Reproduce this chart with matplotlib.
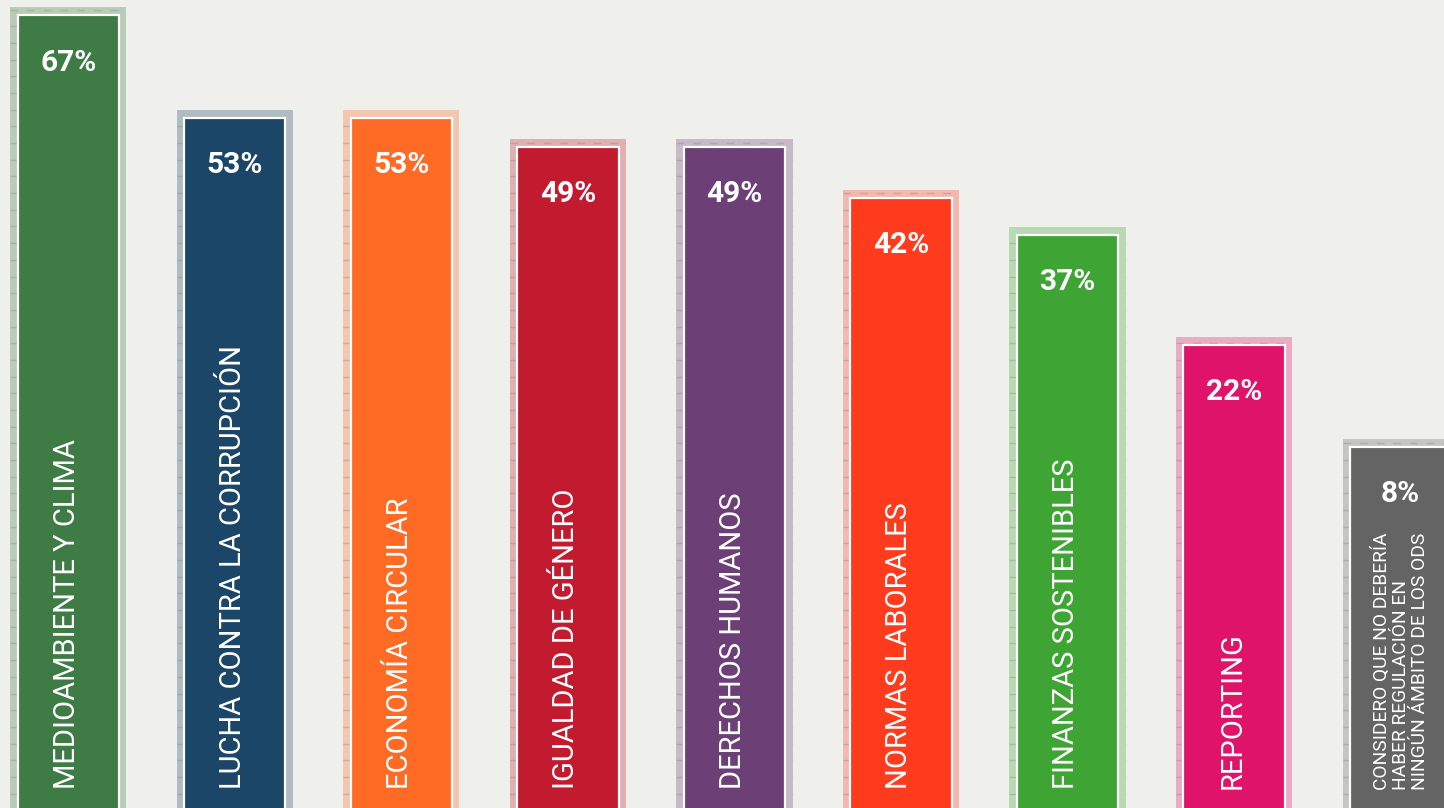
import numpy as np
import matplotlib
matplotlib.use('Agg')
import matplotlib.pyplot as plt

# ============== data ===================
categorias = ['MEDIOAMBIENTE Y CLIMA',
              'LUCHA CONTRA LA CORRUPCIÓN',
              'ECONOMÍA CIRCULAR',
              'IGUALDAD DE GÉNERO',
              'DERECHOS HUMANOS',
              'NORMAS LABORALES',
              'FINANZAS SOSTENIBLES',
              'REPORTING',
              'CONSIDERO QUE NO DEBERÍA\nHABER REGULACIÓN EN\nNINGÚN ÁMBITO DE LOS ODS']
valores = [67, 53, 53, 49, 49, 42, 37, 22, 8]
colores = ['#3E7B45', '#1B4668', '#FF6A25', '#C21A2E', '#6C3F77',
           '#FF3B1E', '#3EA535', '#E0136A', '#646464']

# ============== style ===================
fondo = '#EFEFEB'
base = -50          # bars run off the bottom edge of the picture
pad = 1.1           # light frame above each bar
ancho_int = 0.607
ancho_ext = 0.697

fig = plt.figure(figsize=(14.44, 8.08), dpi=100, facecolor=fondo)
ax = fig.add_axes([0, 0, 1, 1])
ax.set_facecolor(fondo)

x = np.arange(len(valores))

for i, v in enumerate(valores):
    c = colores[i]
    # outer light frame
    ax.bar(x[i], v + pad - base, bottom=base, width=ancho_ext, color=c,
           alpha=0.3, linewidth=0, zorder=1)
    # dashed rules visible inside the frame
    ys = np.arange(-43.94, v + pad, 2.28)
    ax.hlines(ys, x[i] - ancho_ext / 2, x[i] + ancho_ext / 2, colors='#8f8f8f',
              alpha=0.45, linewidth=1.0, linestyles=(0, (5.5, 6.5)), zorder=2)
    # inner bar with white edge
    ax.bar(x[i], v - base, bottom=base, width=ancho_int, color=c,
           edgecolor='white', linewidth=1.6, zorder=3)
    # value
    ax.annotate(f'{v}%', (x[i], v), xytext=(0, -34), textcoords='offset points',
                ha='center', va='center', color='white', fontsize=21.5,
                fontweight='bold', family='Roboto', zorder=4)

# category names, written upwards inside the bars
for i, lab in enumerate(categorias):
    if '\n' in lab:
        ax.text(x[i], -38.9, lab, rotation=90, ha='center', va='bottom',
                multialignment='left', color='white', fontsize=13.8,
                family='Roboto', linespacing=1.08, zorder=4)
    else:
        ax.text(x[i] - 0.01, -38.8, lab, rotation=90, ha='center', va='bottom',
                color='white', fontsize=21, family='Roboto', zorder=4)

ax.set_xlim(-0.411, 8.261)
ax.set_ylim(-41.35, 69.1)
ax.axis('off')

fig.savefig('out.png', dpi=100, facecolor=fondo)
